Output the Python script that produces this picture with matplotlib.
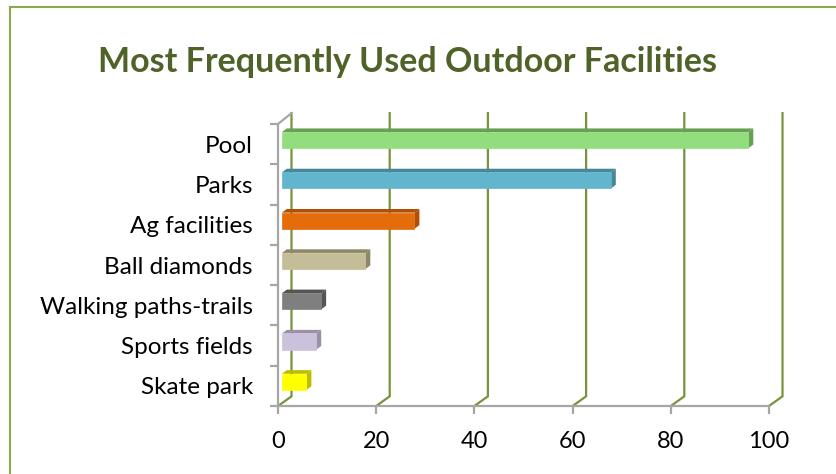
import matplotlib.pyplot as plt
from matplotlib.patches import Polygon
from matplotlib.lines import Line2D

categories = ["Skate park", "Sports fields", "Walking paths-trails", "Ball diamonds",
              "Ag facilities", "Parks", "Pool"]
values = [5, 7, 8, 17, 27, 67, 95]
face_colors = ["#FFFF00", "#CCC1DA", "#7F7F7F", "#C4BD97", "#E46C0A", "#62B5CC", "#92DE7E"]
dark_colors = ["#BDBD00", "#9A90A8", "#555555", "#8F8868", "#B04F05", "#46879A", "#66A055"]
x_ticks = [0, 20, 40, 60, 80, 100]

W, H = 837, 474
GRID = "#77933C"
AXIS = "#A6A6A6"
FONT = "Lato"

fig = plt.figure(figsize=(W / 100, H / 100), dpi=100)
fig.patch.set_facecolor("white")

# plot area (front plane) in pixels
left_px, right_px, top_px, bottom_px = 278, 769, 124, 406
ax = fig.add_axes([left_px / W, 1 - bottom_px / H,
                   (right_px - left_px) / W, (bottom_px - top_px) / H])
ax.set_xlim(0, 100)
ax.set_ylim(-0.5, len(categories) - 0.5)
ax.patch.set_visible(False)

# back wall offset (fake 3d)
bdx, bdy = 2.75, 0.24
ytop = len(categories) - 0.5 + bdy + 0.03
for v in x_ticks:
    ax.plot([v, v + bdx, v + bdx], [-0.5, -0.5 + bdy, ytop], color=GRID, lw=1.6,
            clip_on=False, zorder=1, solid_joinstyle="miter")
# grey left edge slanting to back
ax.plot([0, bdx], [len(categories) - 0.5, ytop], color=AXIS, lw=1.6, clip_on=False, zorder=2)

# bars: front face via barh, depth faces as polygons
x0 = 0.8
ddx, ddy = 1.0, 0.09
h = 0.40
yc = [i + 0.1 for i in range(len(categories))]
ax.barh(yc, values, height=h, left=x0, color=face_colors, edgecolor=face_colors,
        linewidth=0.5, zorder=4, clip_on=False)
for y, v, dc in zip(yc, values, dark_colors):
    yb, yt = y - h / 2, y + h / 2
    xe = x0 + v
    top = Polygon([(x0, yt), (xe, yt), (xe + ddx, yt + ddy), (x0 + ddx, yt + ddy)],
                  closed=True, facecolor=dc, edgecolor="none", zorder=3, clip_on=False)
    side = Polygon([(xe, yb), (xe, yt), (xe + ddx, yt + ddy), (xe + ddx, yb + ddy)],
                   closed=True, facecolor=dc, edgecolor="none", zorder=3, clip_on=False)
    ax.add_patch(top)
    ax.add_patch(side)

# axes styling
for s in ["top", "right"]:
    ax.spines[s].set_visible(False)
for s in ["left", "bottom"]:
    ax.spines[s].set_color(AXIS)
    ax.spines[s].set_linewidth(1.6)
ax.set_xticks(x_ticks)
ax.set_xticklabels([str(t) for t in x_ticks], fontsize=17, family=FONT)
ax.tick_params(axis="x", length=6, width=1.6, color=AXIS, pad=12)
ax.set_yticks(range(len(categories)))
ax.set_yticklabels(categories, fontsize=17.5, family=FONT)
ax.tick_params(axis="y", length=0, pad=18)
ax.set_yticks([i - 0.5 for i in range(len(categories) + 1)], minor=True)
ax.tick_params(axis="y", which="minor", length=6, width=1.6, color=AXIS)

fig.text(408 / W, 1 - 62 / H, "Most Frequently Used Outdoor Facilities",
         ha="center", va="center", fontsize=24.5, fontweight="bold",
         color="#4F6228", family=FONT)

# outer chart frame
fig.add_artist(Line2D([10 / W, 10 / W], [0, 1 - 7 / H], color="#8AAA4E", lw=1.5))
fig.add_artist(Line2D([10 / W, 1], [1 - 7 / H, 1 - 7 / H], color="#8AAA4E", lw=1.5))

fig.savefig("out.png", dpi=100)
